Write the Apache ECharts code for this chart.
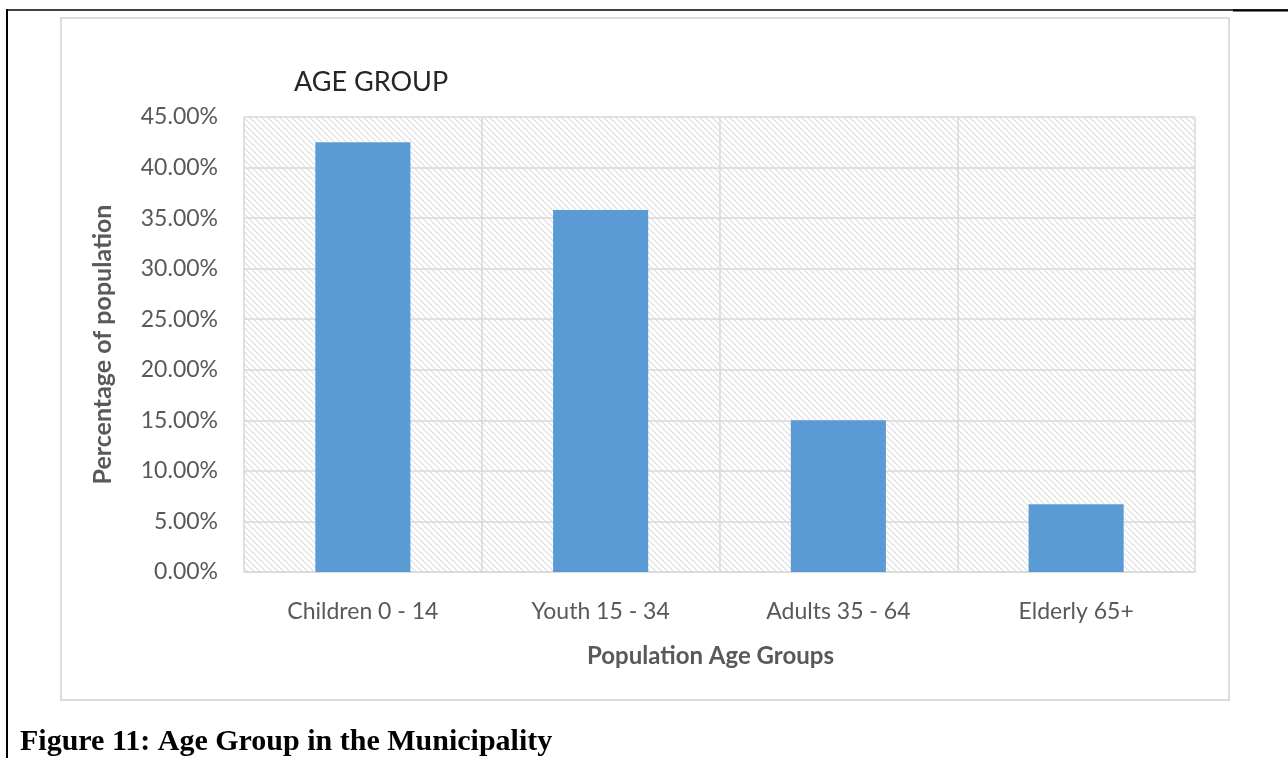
<!DOCTYPE html>
<html>
<head>
<meta charset="utf-8">
<script src="https://cdn.jsdelivr.net/npm/echarts@6/dist/echarts.min.js"></script>
<style>
html,body{margin:0;padding:0;background:#fff;}
#chart{width:1288px;height:758px;}
</style>
</head>
<body>
<div id="chart"></div>
<script>
const categories = ['Children 0 - 14', 'Youth 15 - 34', 'Adults 35 - 64', 'Elderly 65+'];
const shares = [0.425, 0.358, 0.150, 0.067];
const yTicks = [0, 0.05, 0.10, 0.15, 0.20, 0.25, 0.30, 0.35, 0.40, 0.45];
const chartTitle = 'AGE GROUP';
const xName = 'Population Age Groups';
const yName = 'Percentage of population';
const caption = 'Figure 11: Age Group in the Municipality';

// hatch pattern for plot background
const tile = document.createElement('canvas');
tile.width = 6; tile.height = 6;
const tctx = tile.getContext('2d');
const img = tctx.createImageData(6, 6);
for (let y = 0; y < 6; y++) {
  for (let x = 0; x < 6; x++) {
    const d = ((x - y) % 6 + 6) % 6;
    let v = 255;
    if (d === 0) v = 222;
    else if (d === 1) v = 238;
    const i = (y * 6 + x) * 4;
    img.data[i] = v; img.data[i + 1] = v; img.data[i + 2] = v; img.data[i + 3] = 255;
  }
}
tctx.putImageData(img, 0, 0);

const font = 'Lato, "Open Sans", sans-serif';
const chart = echarts.init(document.getElementById('chart'), null, {renderer: 'canvas'});
chart.setOption({
  animation: false,
  backgroundColor: '#fff',
  title: {
    text: chartTitle,
    left: 289, top: 64,
    textStyle: {fontFamily: font, fontSize: 27, fontWeight: 'normal', color: '#262626'}
  },
  grid: {
    left: 244, top: 117, width: 951, height: 455,
    show: true,
    backgroundColor: {image: tile, repeat: 'repeat'},
    borderWidth: 0
  },
  xAxis: {
    type: 'category',
    data: categories,
    name: xName,
    nameLocation: 'middle',
    nameGap: 72,
    nameTextStyle: {fontFamily: font, fontSize: 24, fontWeight: 'bold', color: '#595959', padding: [0, 18, 0, 0]},
    axisLine: {show: true, lineStyle: {color: '#d9d9d9', width: 1.5}},
    axisTick: {show: false},
    axisLabel: {fontFamily: font, fontSize: 23, color: '#595959', margin: 28},
    splitLine: {show: true, lineStyle: {color: '#d9d9d9', width: 1.5}}
  },
  yAxis: {
    type: 'value',
    min: yTicks[0], max: yTicks[yTicks.length - 1], interval: 0.05,
    name: yName,
    nameLocation: 'middle',
    nameGap: 129,
    nameRotate: 90,
    nameTextStyle: {fontFamily: font, fontSize: 25, fontWeight: 'bold', color: '#595959'},
    axisLine: {show: false},
    axisTick: {show: false},
    axisLabel: {
      fontFamily: font, fontSize: 23, color: '#595959', margin: 26,
      formatter: v => (v * 100).toFixed(2) + '%'
    },
    splitLine: {show: true, lineStyle: {color: '#d9d9d9', width: 1.5}}
  },
  series: [{
    type: 'bar',
    data: shares,
    barWidth: '40%',
    itemStyle: {color: '#5b9bd5'}
  }],
  graphic: [
    {type: 'rect', shape: {x: 61, y: 18, width: 1168, height: 682},
     style: {fill: 'none', stroke: '#dcdcdc', lineWidth: 2}, z: -1},
    {type: 'line', shape: {x1: 6, y1: 10, x2: 1288, y2: 10}, style: {stroke: '#000', lineWidth: 1.5}},
    {type: 'line', shape: {x1: 1233, y1: 10.5, x2: 1288, y2: 10.5}, style: {stroke: '#000', lineWidth: 2}},
    {type: 'line', shape: {x1: 7, y1: 9, x2: 7, y2: 758}, style: {stroke: '#000', lineWidth: 2}},
    {type: 'text', left: 20, top: 727,
     style: {text: caption, font: 'bold 30px "Liberation Serif", "Times New Roman", serif', fill: '#000'}}
  ]
});
</script>
</body>
</html>
